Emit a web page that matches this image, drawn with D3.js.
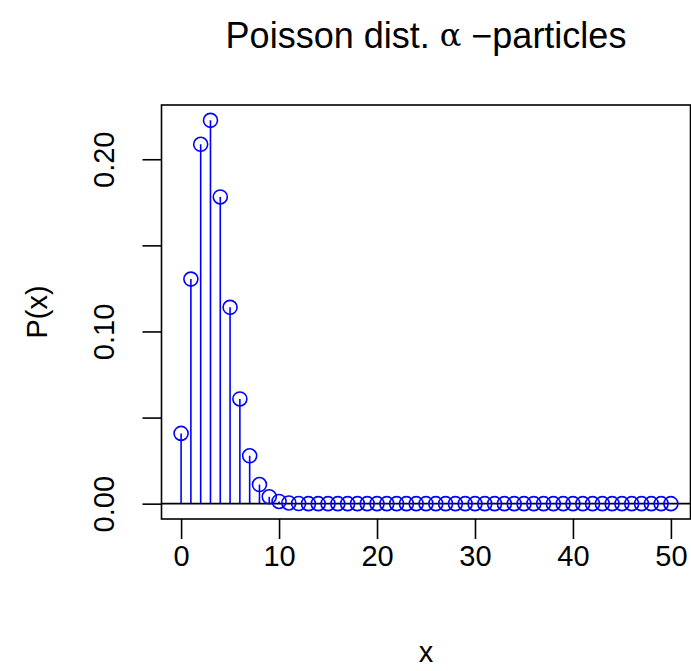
<!DOCTYPE html>
<html>
<head>
<meta charset="utf-8">
<script src="https://cdn.jsdelivr.net/npm/d3@7"></script>
<style>
  body { margin: 0; background: #fff; }
  text { font-family: "Liberation Sans", Arial, sans-serif; }
</style>
</head>
<body>
<div id="chart"></div>
<script>
// x values (counts) and Poisson probabilities
const counts = d3.range(0, 51);
const probs = [0.0408, 0.1304, 0.2087, 0.2226, 0.1781, 0.1140, 0.0608, 0.0278, 0.0111, 0.0040,
  0.0013, 0.0004, 0.0001, 0, 0, 0, 0, 0, 0, 0,
  0, 0, 0, 0, 0, 0, 0, 0, 0, 0,
  0, 0, 0, 0, 0, 0, 0, 0, 0, 0,
  0, 0, 0, 0, 0, 0, 0, 0, 0, 0, 0];
const xTicks = [0, 10, 20, 30, 40, 50];
const yTicks = [0, 0.05, 0.10, 0.15, 0.20];
const yLabels = ["0.00", "", "0.10", "", "0.20"];

const W = 691, H = 671;
const margin = { top: 105, right: 0.5, bottom: 152, left: 161.5 };
const lw = 1.6;

const data = counts.map((c, i) => ({ x: c, p: probs[i] }));

const svg = d3.select("#chart").append("svg")
    .attr("width", W)
    .attr("height", H);

// R style 4% padding on both axes
const yMax = d3.max(probs);
const x = d3.scaleLinear()
    .domain([-0.04 * 50, 50 * 1.04])
    .range([margin.left, W - margin.right]);
const y = d3.scaleLinear()
    .domain([-0.04 * yMax, yMax * 1.04])
    .range([H - margin.bottom, margin.top]);

svg.append("clipPath").attr("id", "plotclip")
  .append("rect")
    .attr("x", margin.left).attr("y", margin.top)
    .attr("width", W - margin.right - margin.left)
    .attr("height", H - margin.bottom - margin.top);

const plot = svg.append("g").attr("clip-path", "url(#plotclip)");

// stems
plot.selectAll(".stem")
  .data(data)
  .enter().append("line")
    .attr("class", "stem")
    .attr("x1", d => x(d.x)).attr("x2", d => x(d.x))
    .attr("y1", y(0)).attr("y2", d => y(d.p))
    .attr("stroke", "#0000ff")
    .attr("stroke-width", lw);

// abline h = 0
plot.append("line")
    .attr("x1", margin.left).attr("x2", W - margin.right)
    .attr("y1", y(0)).attr("y2", y(0))
    .attr("stroke", "#000")
    .attr("stroke-width", lw);

// points
plot.selectAll(".pt")
  .data(data)
  .enter().append("circle")
    .attr("class", "pt")
    .attr("cx", d => x(d.x))
    .attr("cy", d => y(d.p))
    .attr("r", 7)
    .attr("fill", "none")
    .attr("stroke", "#0000ff")
    .attr("stroke-width", lw);

// box
svg.append("rect")
    .attr("x", margin.left).attr("y", margin.top)
    .attr("width", W - margin.right - margin.left)
    .attr("height", H - margin.bottom - margin.top)
    .attr("fill", "none")
    .attr("stroke", "#000")
    .attr("stroke-width", lw);

// axes
const xAxis = svg.append("g")
    .attr("transform", "translate(0," + (H - margin.bottom) + ")")
    .call(d3.axisBottom(x).tickValues(xTicks).tickSize(20).tickPadding(6).tickSizeOuter(0));
xAxis.select(".domain").remove();
xAxis.selectAll("line").attr("stroke-width", lw);
xAxis.selectAll("text")
    .attr("font-size", 29)
    .attr("font-family", "Liberation Sans, Arial, sans-serif")
    .attr("fill", "#000");

const yAxis = svg.append("g")
    .attr("transform", "translate(" + margin.left + ",0)")
    .call(d3.axisLeft(y).tickValues(yTicks).tickSize(19).tickFormat((d, i) => yLabels[i]).tickSizeOuter(0));
yAxis.select(".domain").remove();
yAxis.selectAll("line").attr("stroke-width", lw);
yAxis.selectAll("text")
    .attr("font-size", 29)
    .attr("font-family", "Liberation Sans, Arial, sans-serif")
    .attr("fill", "#000")
    .attr("text-anchor", "middle")
    .attr("x", 0).attr("y", 0).attr("dy", "0")
    .attr("dominant-baseline", "central")
    .attr("transform", "translate(-58,0) rotate(-90)");

// title
const cx = (margin.left + W - margin.right) / 2;
const title = svg.append("text")
    .attr("x", cx).attr("y", 35)
    .attr("text-anchor", "middle")
    .attr("dominant-baseline", "central")
    .attr("font-size", 36);
title.append("tspan").text("Poisson dist. ");
title.append("tspan").attr("font-family", "DejaVu Serif, serif").attr("font-size", 32).text("\u03B1");
title.append("tspan").text(" \u2212particles");

// axis titles
svg.append("text")
    .attr("x", cx).attr("y", 652)
    .attr("text-anchor", "middle")
    .attr("dominant-baseline", "central")
    .attr("font-size", 29)
    .text("x");

svg.append("text")
    .attr("transform", "translate(37," + (margin.top + H - margin.bottom) / 2 + ") rotate(-90)")
    .attr("text-anchor", "middle")
    .attr("dominant-baseline", "central")
    .attr("font-size", 29)
    .text("P(x)");
</script>
</body>
</html>
